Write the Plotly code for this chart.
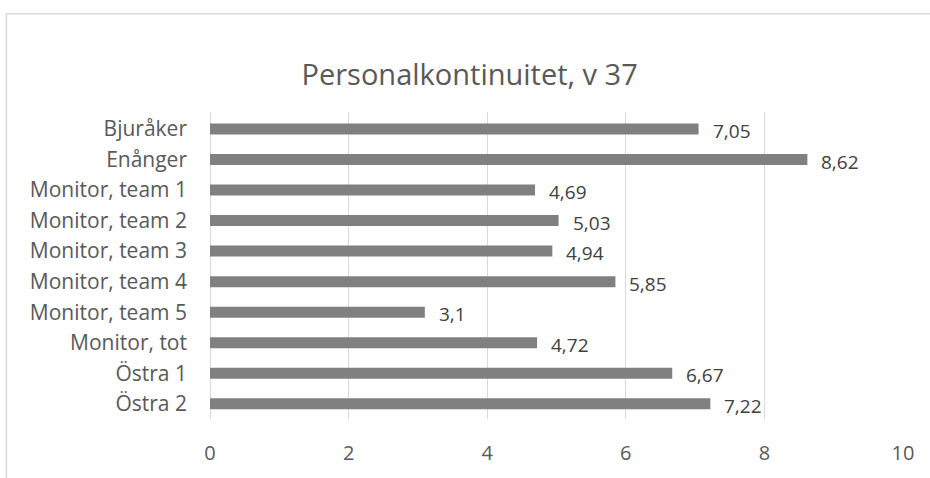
import plotly.graph_objects as go

categories = ["Bjuråker", "Enånger", "Monitor, team 1", "Monitor, team 2", "Monitor, team 3",
              "Monitor, team 4", "Monitor, team 5", "Monitor, tot", "Östra 1", "Östra 2"]
values = [7.05, 8.62, 4.69, 5.03, 4.94, 5.85, 3.1, 4.72, 6.67, 7.22]
labels = [("%g" % v).replace(".", ",") for v in values]
x_ticks = [0, 2, 4, 6, 8, 10]

FONT = "Open Sans"

fig = go.Figure(go.Bar(
    y=categories, x=values, orientation="h",
    marker=dict(color="#808080", line=dict(width=0)),
    width=0.36, hoverinfo="skip",
))

for c, v, t in zip(categories, values, labels):
    fig.add_annotation(x=v, y=c, text=t, showarrow=False, xanchor="left",
                       xshift=12, yshift=-2,
                       font=dict(family=FONT, size=19, color="#404040"))

fig.add_shape(type="rect", xref="paper", yref="paper",
              x0=-0.2937, x1=1.2, y0=-0.4, y1=1.32,
              line=dict(color="#d9d9d9", width=1.5), fillcolor="rgba(0,0,0,0)", layer="below")

fig.update_layout(
    width=930, height=478,
    margin=dict(l=210, r=27, t=112, b=54),
    paper_bgcolor="white", plot_bgcolor="white",
    showlegend=False,
    title=dict(text="Personalkontinuitet, v 37", x=0.505, xanchor="center",
               y=0.843, yanchor="middle",
               font=dict(family=FONT, size=29, color="#595959")),
    xaxis=dict(range=[0, 10], tickvals=x_ticks, showgrid=True, gridcolor="#d9d9d9",
               gridwidth=1, zeroline=True, zerolinecolor="#d9d9d9", zerolinewidth=1,
               showline=False, ticks="", ticklen=0, ticklabelstandoff=20,
               tickfont=dict(family=FONT, size=20, color="#595959")),
    yaxis=dict(categoryorder="array", categoryarray=categories, autorange="reversed",
               showgrid=False, showline=False, ticks="", ticklabelstandoff=22,
               tickfont=dict(family=FONT, size=21, color="#595959")),
    font=dict(family=FONT),
)

fig.write_html("out.html", config={"displayModeBar": False},
               post_script="document.body.style.margin='0';document.body.style.overflow='hidden';")
